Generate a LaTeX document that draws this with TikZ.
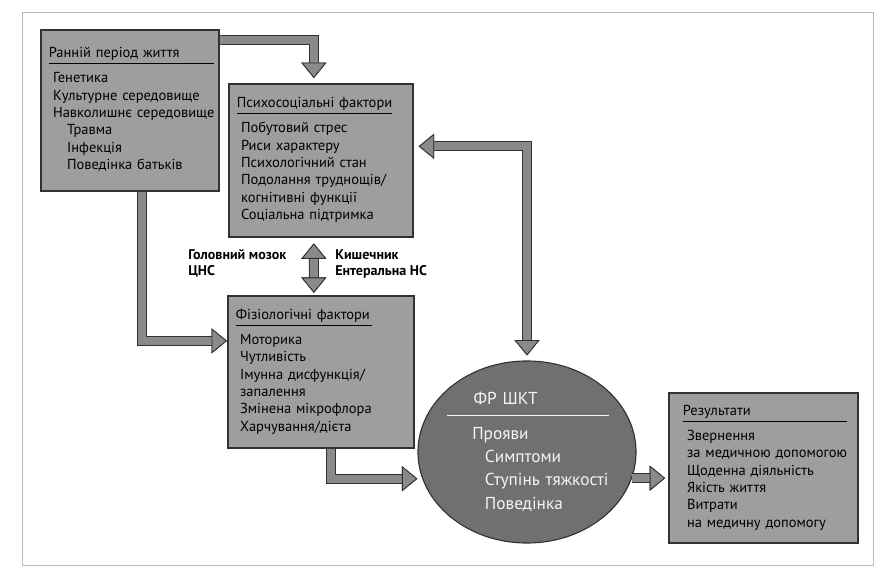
\documentclass[tikz,border=0pt]{standalone}
\usepackage{fontspec}
\setmainfont{PT Sans}
\usepackage{tikz}
\usetikzlibrary{shapes.geometric,arrows.meta}
\definecolor{boxgray}{RGB}{158,158,158}
\definecolor{ovalgray}{RGB}{112,112,112}
\definecolor{flowgray}{RGB}{138,138,138}
\definecolor{edgegray}{RGB}{50,50,50}
\setlength{\arrayrulewidth}{0.7pt}
\newcommand\panelrows[2]{\begin{tabular}{@{}l@{}}#1\\\hline\noalign{\vskip4.5pt}#2\end{tabular}}
\newcommand\ind{\hspace*{3pt}}
\newcommand\subind{\hspace*{13pt}}

\begin{document}
\begin{tikzpicture}[x=0.025cm, y=-0.025cm,
    panel/.style = {draw=edgegray, line width=1.2pt, fill=boxgray, anchor=north west,
      align=left, inner xsep=0.2cm, inner ysep=0pt,
      font=\fontsize{10.3}{12.4}\selectfont},
    oval/.style = {ellipse, draw=edgegray, line width=0.8pt, fill=ovalgray,
      minimum width=5.45cm, minimum height=4.55cm},
    ovaltext/.style = {text=white!92!gray, align=left, text width=4.2cm,
      inner sep=0pt, font=\fontsize{12.3}{16.5}\selectfont},
    link/.style = {anchor=north west, align=left, inner sep=0pt,
      font=\fontsize{10}{11.5}\selectfont\bfseries},
    bigtip/.tip = {Triangle[width=17.8pt, length=11pt, line width=0.6pt,
      color=edgegray, fill=flowgray]},
    flow/.style = {draw=flowgray, line width=5.6pt, line join=miter,
      preaction={draw=edgegray, line width=7.1pt}}]
  \useasboundingbox (0,0) rectangle (880,569);
  \draw[gray!55, line width=0.6pt] (22,12) rectangle (873,565);

  \node[panel, text width=4.05cm, minimum height=4.025cm] (early) at (40,29)
    {\panelrows{Ранній період життя}{\ind Генетика\\\ind Культурне середовище\\\ind Навколишнє середовище\\
     \subind Травма\\\subind Інфекція\\\subind Поведінка батьків}};
  \node[panel, text width=4.2cm, minimum height=3.825cm] (psych) at (228,83)
    {\panelrows{Психосоціальні фактори}{\ind Побутовий стрес\\\ind Риси характеру\\\ind Психологічний стан\\
     \ind Подолання труднощів/\\\ind когнітивні функції\\\ind Соціальна підтримка}};
  \node[panel, text width=4.25cm, minimum height=3.8cm] (phys) at (227,295)
    {\panelrows{Фізіологічні фактори}{\ind Моторика\\\ind Чутливість\\\ind Імунна дисфункція/\\
     \ind запалення\\\ind Змінена мікрофлора\\\ind Харчування/дієта}};
  \node[panel, text width=4.025cm, minimum height=3.75cm, inner xsep=0.35cm] (res) at (668,392)
    {\panelrows{Результати}{\ind Звернення\\\ind за медичною допомогою\\\ind Щоденна діяльність\\
     \ind Якість життя\\\ind Витрати\\\ind на медичну допомогу}};
  \node[oval] (fr) at (527,452) {};
  \node[ovaltext] (frtext) at (531,452)
    {\begin{tabular}{@{}l@{}}\hspace*{19pt}ФР ШКТ\\[3pt]\hline\noalign{\vskip5pt}
     \hspace*{18pt}Прояви\\\hspace*{27pt}Симптоми\\\hspace*{27pt}Ступінь тяжкості\\\hspace*{27pt}Поведінка\end{tabular}};
  \node[link] (brain) at (188,249) {Головний мозок\\ЦНС};
  \node[link] (gut) at (335,249) {Кишечник\\Ентеральна НС};

  \draw[flow, -bigtip, shorten >=3.5pt] ([yshift=-7.8pt]early.north east) -| ([xshift=-5pt]psych.north);
  \draw[flow, -bigtip] ([xshift=8.5pt]early.south) |- ([yshift=22pt]phys.west);
  \draw[flow, bigtip-bigtip, shorten <=4pt, shorten >=1.5pt] ([xshift=-5pt]psych.south) -- ([xshift=-5pt]phys.north);
  \draw[flow, -bigtip] ([xshift=7pt]phys.south) |- ([yshift=-19pt]fr.west);
  \draw[flow, bigtip-bigtip, shorten <=3.5pt, shorten >=3.5pt] ([yshift=10pt]psych.east) -| (fr.north);
  \draw[flow, -bigtip, shorten >=2pt] (fr.-14) -- (fr.-14 -| res.west);
\end{tikzpicture}
\end{document}
